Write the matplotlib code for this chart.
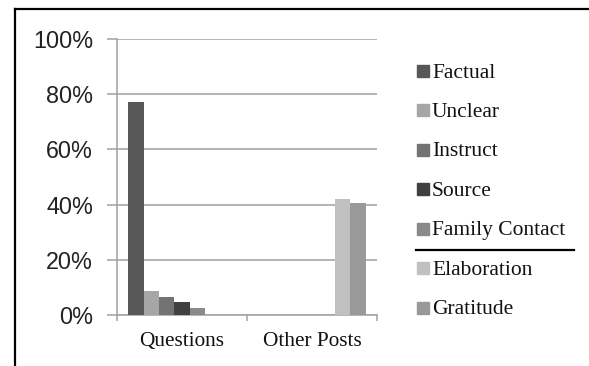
import matplotlib
matplotlib.use("Agg")
import matplotlib.pyplot as plt
import numpy as np
from matplotlib.patches import Rectangle
from matplotlib.lines import Line2D

categories = ["Questions", "Other Posts"]
series_names = ["Factual", "Unclear", "Instruct", "Source", "Family Contact",
                "Elaboration", "Gratitude"]
factual = [77.2, 0]
unclear = [8.6, 0]
instruct = [6.6, 0]
source = [4.7, 0]
family_contact = [2.4, 0]
elaboration = [0, 41.9]
gratitude = [0, 40.4]
series_values = [factual, unclear, instruct, source, family_contact,
                 elaboration, gratitude]
colors = ["#575757", "#a6a6a6", "#737373", "#404040", "#8a8a8a",
          "#c0c0c0", "#999999"]
ytick_vals = [0, 20, 40, 60, 80, 100]
ytick_labels = ["0%", "20%", "40%", "60%", "80%", "100%"]

W, H = 589, 366
fig = plt.figure(figsize=(W / 100, H / 100), dpi=100)
ax = fig.add_axes([117 / W, 1 - 315 / H, (377 - 117) / W, (315 - 39) / H])

n = len(series_names)
bw = 15.33 / 130
gap = (1 - n * bw) / 2
x = np.arange(len(categories))
for i, (vals, c) in enumerate(zip(series_values, colors)):
    ax.bar(x + gap + i * bw, vals, width=bw, align="edge", color=c,
           edgecolor="none", zorder=3)

ax.set_xlim(0, len(categories))
ax.set_ylim(0, 100)
ax.set_yticks(ytick_vals)
ax.set_yticklabels(ytick_labels, fontfamily="Liberation Sans", fontsize=16.8,
                   color="#222222")
ax.yaxis.grid(True, color="#a0a0a0", linewidth=1.1, zorder=0)
ax.tick_params(axis="y", length=7.2, width=1.1, color="#a0a0a0", pad=10)
ax.set_xticks(np.arange(len(categories) + 1))
ax.set_xticklabels([])
ax.tick_params(axis="x", length=4.5, width=1.1, color="#a0a0a0")
ax.set_xticks(x + 0.5, minor=True)
ax.set_xticklabels(categories, minor=True, fontfamily="Liberation Serif",
                   fontsize=15.3, color="#111111")
ax.tick_params(axis="x", which="minor", length=0, pad=12)
for s in ["top", "right"]:
    ax.spines[s].set_visible(False)
for s in ["left", "bottom"]:
    ax.spines[s].set_color("#a0a0a0")
    ax.spines[s].set_linewidth(1.1)

# legend (manual)
y0 = 70.7
step = 39.5
for i, (name, c) in enumerate(zip(series_names, colors)):
    yc = y0 + i * step
    fig.add_artist(Rectangle((417 / W, 1 - (yc + 6) / H), 12 / W, 12 / H,
                             transform=fig.transFigure, color=c))
    fig.text(432 / W, 1 - (yc + 6.8) / H, name, fontfamily="Liberation Serif",
             fontsize=15.5, va="baseline", ha="left", color="#111111")
sep_y = 1 - 249.5 / H
fig.add_artist(Line2D([416 / W, 574 / W], [sep_y, sep_y],
                      transform=fig.transFigure, color="black", linewidth=1.6))

# frame
fig.add_artist(Line2D([15 / W, 1], [1 - 9 / H, 1 - 9 / H],
                      transform=fig.transFigure, color="black", linewidth=1.6))
fig.add_artist(Line2D([15 / W, 15 / W], [0, 1 - 9 / H],
                      transform=fig.transFigure, color="black", linewidth=1.6))

fig.savefig("out.png", dpi=100)
